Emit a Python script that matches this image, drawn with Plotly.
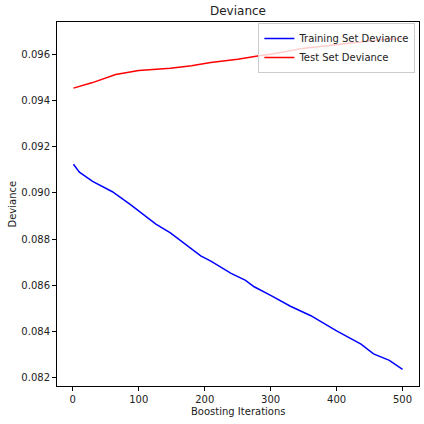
import plotly.graph_objects as go

# Boosting iterations and deviance values
train_iter = [1, 10, 30, 60, 88, 100, 126, 148, 176, 194, 210, 240, 262, 275,
              300, 330, 361, 400, 437, 456, 480, 500]
train_dev = [0.09124, 0.09090, 0.09050, 0.09005, 0.08948, 0.08923, 0.08865,
             0.08827, 0.08767, 0.08728, 0.08704, 0.08652, 0.08622, 0.08594,
             0.08557, 0.08510, 0.08469, 0.08403, 0.08346, 0.08304, 0.08276,
             0.08237]

test_iter = [1, 30, 65, 100, 148, 180, 209, 250, 285, 300, 351, 400, 437, 470, 500]
test_dev = [0.09453, 0.09477, 0.09512, 0.09529, 0.09539, 0.09550, 0.09564,
            0.09578, 0.09594, 0.09600, 0.09626, 0.09641, 0.09655, 0.09663,
            0.09668]

x_ticks = [0, 100, 200, 300, 400, 500]
y_ticks = [0.082, 0.084, 0.086, 0.088, 0.090, 0.092, 0.094, 0.096]

font = "DejaVu Sans"

fig = go.Figure()
fig.add_trace(go.Scatter(x=train_iter, y=train_dev, mode="lines",
                         name="Training Set Deviance",
                         line=dict(color="#0000ff", width=1.5)))
fig.add_trace(go.Scatter(x=test_iter, y=test_dev, mode="lines",
                         name="Test Set Deviance",
                         line=dict(color="#ff0000", width=1.5)))

axis_common = dict(showline=True, linecolor="black", linewidth=1, mirror=True,
                   ticks="outside", ticklen=4, tickwidth=1, tickcolor="black",
                   showgrid=False, zeroline=False,
                   tickfont=dict(family=font, size=10, color="#222"))

fig.update_layout(
    width=424, height=424,
    margin=dict(l=57, r=5, t=22, b=38),
    paper_bgcolor="white", plot_bgcolor="white",
    xaxis=dict(range=[-23.95, 524.95], tickvals=x_ticks, **axis_common),
    yaxis=dict(range=[0.08165, 0.09739], tickvals=y_ticks,
               ticktext=[f"{v:.3f}" for v in y_ticks], **axis_common),
    legend=dict(x=0.99, y=0.997, xanchor="right", yanchor="top",
                bgcolor="rgba(255,255,255,0.8)", bordercolor="#cccccc",
                borderwidth=1, font=dict(family=font, size=10, color="#222"),
                itemwidth=30, tracegroupgap=0),
    showlegend=True,
    annotations=[
        dict(text="Deviance", xref="paper", yref="paper", x=0.5, y=1,
             xanchor="center", yanchor="bottom", yshift=2, showarrow=False,
             font=dict(family=font, size=12, color="#222")),
        dict(text="Boosting Iterations", xref="paper", yref="paper", x=0.5, y=0,
             xanchor="center", yanchor="top", yshift=-18, showarrow=False,
             font=dict(family=font, size=10, color="#222")),
        dict(text="Deviance", xref="paper", yref="paper", x=0, y=0.5,
             xanchor="right", yanchor="middle", xshift=-38, textangle=-90,
             showarrow=False, font=dict(family=font, size=10, color="#222")),
    ],
)

fig.write_html("out.html",
               config={"displayModeBar": False},
               post_script="document.body.style.margin='0';"
                           "document.body.style.padding='0';")
